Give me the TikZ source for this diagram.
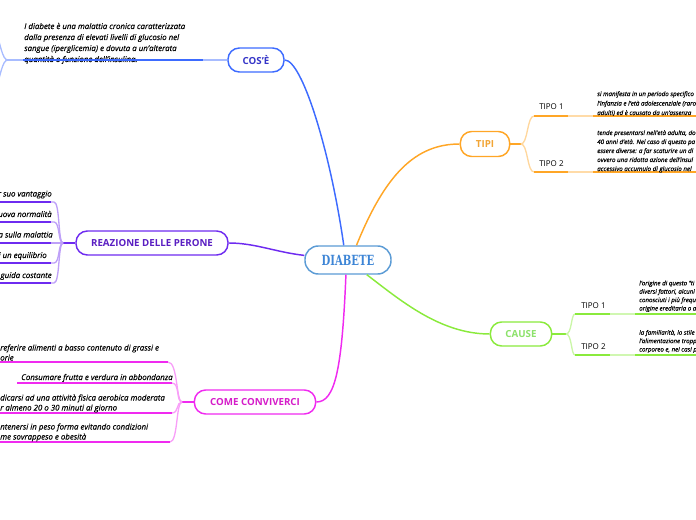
\documentclass[tikz,border=0pt]{standalone}
\usepackage{fontspec}
\setmainfont{Open Sans}[ItalicFeatures={FakeBold=0.35}]
\newfontfamily\diafont{DejaVu Serif}
\definecolor{cblue}{HTML}{3D6BFF}
\definecolor{cbluet}{HTML}{3535C8}
\definecolor{cpurple}{HTML}{6E2BF0}
\definecolor{cpurplet}{HTML}{5A1EC2}
\definecolor{cmag}{HTML}{F02AF0}
\definecolor{cmagt}{HTML}{D51CC9}
\definecolor{corange}{HTML}{FFA626}
\definecolor{coranget}{HTML}{F2A535}
\definecolor{cgreen}{HTML}{8AEA3C}
\definecolor{cgreent}{HTML}{8CE26A}
\definecolor{cdia}{HTML}{5B9BD5}
\definecolor{cdiat}{HTML}{3D85D6}
\begin{document}
\begin{tikzpicture}[x=0.75pt,y=-0.75pt,
  topic/.style={draw, line width=1.1pt, rounded corners=8.5pt, minimum height=18pt, inner sep=0pt, fill=white, font=\fontsize{7.3}{8.5}\selectfont\bfseries},
  conn/.style={line width=1.1pt},
  uline/.style={line width=1.6pt},
  lline/.style={line width=1pt},
  txtA/.style={anchor=base west, align=left, inner sep=0pt, font=\fontsize{5.9}{8.25}\selectfont\itshape},
  txtB/.style={anchor=base east, align=right, inner sep=0pt, font=\fontsize{5.9}{8.25}\selectfont\itshape},
  txtC/.style={anchor=base west, align=left, inner sep=0pt, font=\fontsize{5.9}{7.5}\selectfont\itshape},
  txtT/.style={anchor=base west, align=left, inner sep=0pt, font=\fontsize{4.65}{7.1}\selectfont\itshape},
  txtT2/.style={anchor=base west, align=left, inner sep=0pt, font=\fontsize{4.65}{6.75}\selectfont\itshape},
  txtK/.style={anchor=base west, align=left, inner sep=0pt, font=\fontsize{4.6}{6.3}\selectfont\itshape},
  lab/.style={anchor=base west, inner sep=0pt, font=\fontsize{6}{7}\selectfont}
]
\useasboundingbox (0,0) rectangle (696,520);
\clip (0,0) rectangle (696,520);

% ---------- topics ----------
\node[topic, draw=cdia, text=cdiat, minimum width=64.5pt, minimum height=21pt, rounded corners=10pt] (dia) at (348,260) {\scalebox{0.72}[1]{\diafont\fontsize{10.5}{12}\selectfont\bfseries DIABETE}};
\node[topic, draw=cblue, text=cbluet, minimum width=42pt] (cos) at (256,60) {COS'È};
\node[topic, draw=cpurple, text=cpurplet, minimum width=114pt] (rea) at (152,243) {REAZIONE DELLE PERONE};
\node[topic, draw=cmag, text=cmagt, minimum width=91pt] (come) at (255,402) {COME CONVIVERCI};
\node[topic, draw=corange, text=coranget, minimum width=37pt, minimum height=18.75pt] (tipi) at (485,144) {TIPI};
\node[topic, draw=cgreen, text=cgreent, minimum width=46pt] (cause) at (521,334) {CAUSE};

% ---------- main connectors ----------
\draw[cblue, conn] (dia.106) .. controls (330,150) and (302,60) .. (cos.east);
\draw[cpurple, conn] (dia.174) .. controls (275,252) and (255,243) .. (rea.east);
\draw[corange, conn] (dia.60) .. controls (385,175) and (415,144) .. (tipi.west);
\draw[cgreen, conn] (dia.-38) .. controls (400,300) and (440,334) .. (cause.west);
\draw[cmag, conn] (dia.-98) .. controls (342,370) and (335,402) .. (come.east);

% ---------- COS'E ----------
\coordinate (cosb) at (8,60);
\coordinate (cosu1) at (23,60);
\coordinate (cosu2) at (203,60);
\coordinate (cosup) at (-6,25);
\coordinate (cosdn) at (-6,95);
\draw[cblue!45, conn] (cos.west) -- (cosu2);
\draw[cblue!45, lline] (cosb) -- (cosu1);
\draw[cblue!45, lline] (cosb) .. controls (2,60) and (1,45) .. (cosup);
\draw[cblue!45, lline] (cosb) .. controls (2,60) and (1,75) .. (cosdn);
\node[txtA] (costxt) at (24,62) {I diabete è una malattia cronica caratterizzata\\dalla presenza di elevati livelli di glucosio nel\\sangue (iperglicemia) e dovuta a un'alterata\\quantità o funzione dell'insulina.};
\draw[cblue, uline] (cosu1) -- (cosu2);

% ---------- REAZIONE ----------
\coordinate (reab) at (63,243);
\draw[cpurple, conn] (rea.west) -- (reab);
\foreach \i/\y in {1/202,2/222,3/243,4/263,5/283}{
  \coordinate (rs\i) at (-5,\y);
  \coordinate (rm\i) at (51,\y);
  \coordinate (re\i) at (54,\y);
  \draw[cpurple!45, lline] (rm\i) -- (re\i) .. controls (60,\y) and (58,243) .. (reab);
  \draw[cpurple, uline] (rs\i) -- (rm\i);
}
\node[txtB] (r1) at (52,196.5) {r suo vantaggio};
\node[txtB] (r2) at (52,217) {uova normalità};
\node[txtB] (r3) at (53,237.5) {a sulla malattia};
\node[txtB] (r4) at (47,258) {i un equilibrio};
\node[txtB] (r5) at (52,278) {guida costante};

% ---------- COME CONVIVERCI ----------
\coordinate (comeb) at (182,402);
\draw[cmag, conn] (come.west) -- (comeb);
\coordinate (cs1) at (-5,362); \coordinate (ce1) at (168,362);
\coordinate (cs2) at (17,383); \coordinate (ce2) at (172,383);
\coordinate (cs3) at (-5,413); \coordinate (ce3) at (172,413);
\coordinate (cs4) at (-5,442); \coordinate (ce4) at (170,442);
\draw[cmag!45, lline] (ce1) .. controls (178,362) and (176,402) .. (comeb);
\draw[cmag!45, lline] (ce2) .. controls (180,383) and (176,402) .. (comeb);
\draw[cmag!45, lline] (ce3) .. controls (179,413) and (176,402) .. (comeb);
\draw[cmag!45, lline] (ce4) .. controls (178,442) and (176,402) .. (comeb);
\draw[cmag, uline] (cs1) -- (ce1);
\draw[cmag, uline] (cs2) -- (ce2);
\draw[cmag, uline] (cs3) -- (ce3);
\draw[cmag, uline] (cs4) -- (ce4);
\node[txtC] (c1) at (0,360.5) {referire alimenti a basso contenuto di grassi e\\orie};
\node[txtC] (c2) at (21,380) {Consumare frutta e verdura in abbondanza};
\node[txtC] (c3) at (0,410.5) {dicarsi ad una attività fisica aerobica moderata\\r almeno 20 o 30 minuti al giorno};
\node[txtC] (c4) at (0,439.5) {ntenersi in peso forma evitando condizioni\\me sovrappeso e obesità};

% ---------- TIPI ----------
\coordinate (tipib) at (521,144);
\draw[corange, conn] (tipi.east) -- (tipib);
\foreach \i/\y in {1/116,2/172}{
  \coordinate (ts\i) at (534,\y);
  \coordinate (tm\i) at (568,\y);
  \coordinate (tn\i) at (593,\y);
  \coordinate (te\i) at (700,\y);
  \draw[corange!45, lline] (tipib) .. controls (528,144) and (527,\y) .. (ts\i);
  \draw[corange!40, uline] (tm\i) -- (tn\i);
  \draw[corange, uline] (ts\i) -- (tm\i);
  \draw[corange, uline] (tn\i) -- (te\i);
}
\node[lab] (t1) at (539,110) {TIPO 1};
\node[lab] (t2) at (539,167) {TIPO 2};
\node[txtT] (tt1) at (597,115) {si manifesta in un periodo specifico\\l'infanzia e l'età adolescenziale (raro\\adulti) ed è causato da un'assenza};
\node[txtT2] (tt2) at (597,171) {tende presentarsi nell'età adulta, do\\40 anni d'età. Nel caso di questo pa\\essere diverse: a far scaturire un di\\ovvero una ridotta azione dell'insul\\accessivo accumulo di glucosio nel};

% ---------- CAUSE ----------
\coordinate (causeb) at (566,334);
\draw[cgreen, conn] (cause.east) -- (causeb);
\foreach \i/\y in {1/314,2/355}{
  \coordinate (gs\i) at (575,\y);
  \coordinate (gm\i) at (610,\y);
  \coordinate (gn\i) at (635,\y);
  \coordinate (ge\i) at (700,\y);
  \draw[cgreen!45, lline] (causeb) .. controls (572,334) and (571,\y) .. (gs\i);
  \draw[cgreen!40, uline] (gm\i) -- (gn\i);
  \draw[cgreen, uline] (gs\i) -- (gm\i);
  \draw[cgreen, uline] (gn\i) -- (ge\i);
}
\node[lab] (k1) at (581,309) {TIPO 1};
\node[lab] (k2) at (581,349.5) {TIPO 2};
\node[txtK] (kt1) at (639,310.5) {l'origine di questo "ti\\diversi fattori, alcuni\\conosciuti i più frequ\\origine ereditaria o a};
\node[txtK] (kt2) at (639,351.5) {la familiarità, lo stile\\l'alimentazione tropp\\corporeo e, nei casi p};
\end{tikzpicture}
\end{document}
